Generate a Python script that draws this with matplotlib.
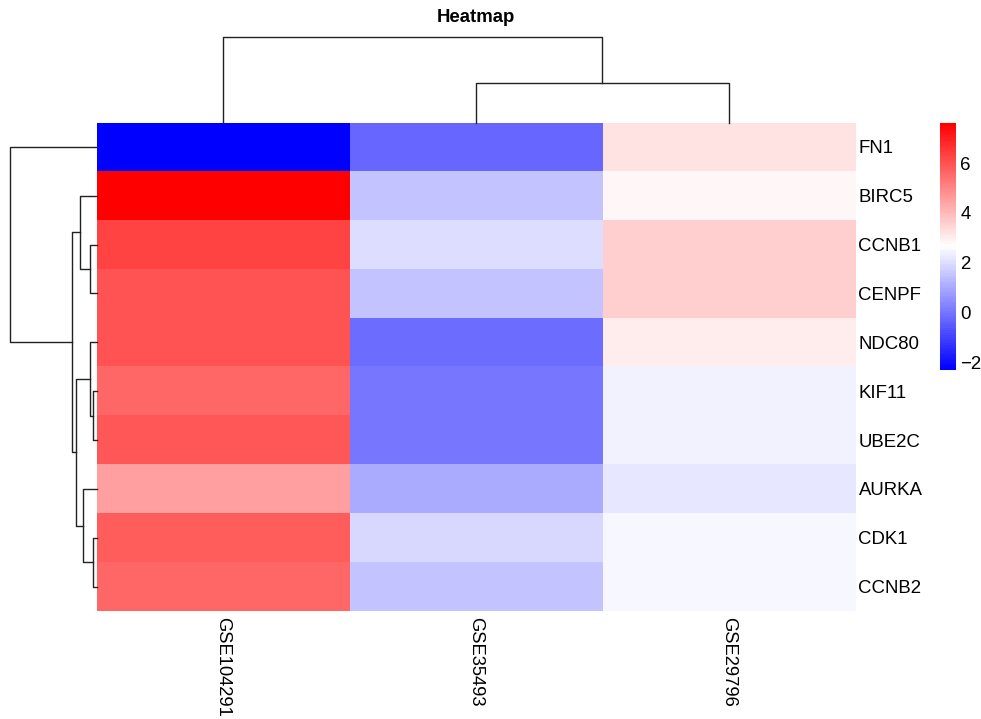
import numpy as np
import matplotlib.pyplot as plt
from matplotlib.colors import LinearSegmentedColormap

plt.rcParams['font.family'] = ['Liberation Sans', 'DejaVu Sans']

genes = ["FN1", "BIRC5", "CCNB1", "CENPF", "NDC80",
         "KIF11", "UBE2C", "AURKA", "CDK1", "CCNB2"]
datasets = ["GSE104291", "GSE35493", "GSE29796"]

# values per dataset, rows in clustered order
gse104291 = [-2.32, 7.64, 6.27, 5.98, 6.04, 5.59, 5.85, 4.55, 5.78, 5.59]
gse35493 = [-0.29, 1.54, 2.01, 1.49, -0.18, 0.07, -0.01, 0.97, 1.96, 1.54]
gse29796 = [3.21, 2.76, 3.56, 3.56, 3.00, 2.43, 2.43, 2.19, 2.52, 2.52]

# merges as (left, right, height); leaves 0..n-1, merge k gets id n+k
row_merges = [(5, 6, 3.4), (8, 9, 4.0), (2, 3, 6.7), (4, 10, 6.7),
              (7, 11, 13.4), (1, 12, 16.7), (13, 14, 20.7),
              (15, 16, 25.0), (0, 17, 86.7)]
col_merges = [(1, 2, 39.4), (0, 3, 86.0)]

mat = np.array([gse104291, gse35493, gse29796]).T

W, H = 981, 719
fig = plt.figure(figsize=(W / 100, H / 100), dpi=100)

def px_axes(x0, y0, x1, y1):
    return fig.add_axes([x0 / W, 1 - y1 / H, (x1 - x0) / W, (y1 - y0) / H])

hm_l, hm_r, hm_t, hm_b = 96.5, 855, 122.5, 611

cmap = LinearSegmentedColormap.from_list("bwr100", ["blue", "white", "red"], N=100)

ax = px_axes(hm_l, hm_t, hm_r, hm_b)
im = ax.imshow(mat, cmap=cmap, vmin=mat.min(), vmax=mat.max(),
               aspect='auto', interpolation='nearest')
for s in ax.spines.values():
    s.set_visible(False)
ax.yaxis.tick_right()
ax.set_yticks(range(len(genes)))
ax.set_yticklabels(genes, fontsize=13.4)
ax.set_xticks(range(len(datasets)))
ax.set_xticklabels(datasets, fontsize=13.2, rotation=-90, va='top', ha='center')
ax.tick_params(length=0)
ax.tick_params(axis='y', pad=2.5)
ax.tick_params(axis='x', pad=4)

def dendro_segments(merges, n):
    pos = {i: float(i) for i in range(n)}
    hgt = {i: 0.0 for i in range(n)}
    segs = []
    for k, (a, b, h) in enumerate(merges):
        segs.append(([pos[a], pos[a], pos[b], pos[b]], [hgt[a], h, h, hgt[b]]))
        pos[n + k] = (pos[a] + pos[b]) / 2
        hgt[n + k] = h
    return segs

# row tree on the left
axr = px_axes(10, hm_t, hm_l, hm_b)
for p, h in dendro_segments(row_merges, len(genes)):
    axr.plot(h, p, color='#222222', lw=1.0, clip_on=False)
axr.set_ylim(len(genes) - 0.5, -0.5)
axr.set_xlim(row_merges[-1][2], 0)
axr.axis('off')

# column tree on top
axc = px_axes(hm_l, 36.7, hm_r, hm_t)
for p, h in dendro_segments(col_merges, len(datasets)):
    axc.plot(p, h, color='#222222', lw=1.0, clip_on=False)
axc.set_xlim(-0.5, len(datasets) - 0.5)
axc.set_ylim(0, col_merges[-1][2])
axc.axis('off')

fig.text(475.5 / W, 1 - 17 / H, "Heatmap", fontsize=13.4, fontweight='bold',
         ha='center', va='center')

cax = px_axes(940, hm_t, 956, 370)
cb = fig.colorbar(im, cax=cax, ticks=[-2, 0, 2, 4, 6])
cb.outline.set_visible(False)
cax.tick_params(length=0, labelsize=13.4, pad=3)

fig.savefig("out.png", dpi=100, facecolor='white')
